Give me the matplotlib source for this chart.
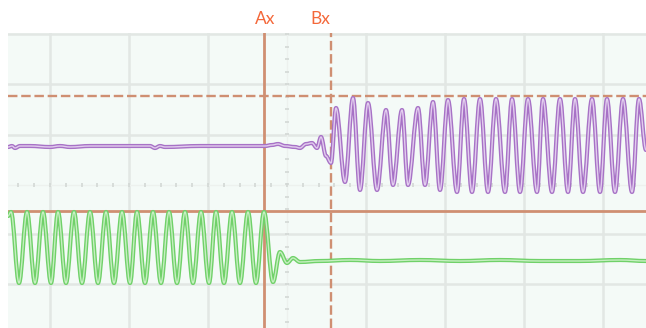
import matplotlib.pyplot as plt
import matplotlib.patheffects as pe
from matplotlib.path import Path
from matplotlib.patches import PathPatch
import numpy as np

# screen-like coordinates (pixels of the scope capture), y grows downwards
PURPLE_X = [8, 12, 15, 20, 30, 50, 60, 70, 90, 100, 150, 155, 160, 165, 200, 230, 265,
            272, 278, 285, 295, 300, 306, 312, 317, 321, 326, 331,
            336, 345, 353, 360, 368, 377, 386, 393, 402, 408, 418, 425, 433, 440,
            448, 457, 464, 472, 480, 488, 496, 505, 512, 520, 528, 537, 543, 552,
            560, 568, 575, 583, 592, 600, 607, 615, 623, 632, 639, 646]
PURPLE_Y = [147, 146, 148, 146, 146, 147, 146, 147, 146, 146, 146, 148, 146, 147, 146, 146, 146,
            145, 144, 146, 147, 148, 144, 143, 148, 137, 156, 163,
            108, 182, 98, 190, 103, 190, 110, 185, 110, 185, 108, 185, 102, 190,
            100, 192, 99, 192, 99, 192, 99, 192, 99, 192, 99, 192, 99, 192,
            99, 192, 99, 192, 99, 192, 99, 192, 99, 192, 99, 150]

GREEN_X = [8, 11, 19, 27, 35, 43, 51, 58, 66, 74, 82, 90, 98, 106, 114, 122, 130,
           137, 145, 153, 161, 169, 177, 185, 193, 201, 209, 216, 224, 232, 240,
           248, 256, 264, 273, 280, 287, 293, 300, 320, 350, 380, 420, 460, 500,
           540, 580, 620, 646]
GREEN_Y = [216, 212, 283, 212, 283, 212, 283, 212, 283, 212, 283, 212, 283, 212, 283, 212, 283,
           212, 283, 212, 283, 212, 283, 212, 283, 212, 283, 212, 283, 212, 283,
           212, 283, 212, 282, 252, 263, 258, 262, 261, 260, 261, 260, 261, 260,
           261, 261, 260, 261]

GRID_X = [50, 129, 208, 366, 445, 524, 603]
GRID_Y = [34, 84, 135, 234, 284]
CENTER_X = 287
CENTER_Y = 185

CURSOR_AX = 264
CURSOR_BX = 331
CURSOR_TOP = 96
CURSOR_BOTTOM = 211


def trace_path(xs, ys):
    # the scope draws smooth strokes: curve from one sample to the next,
    # flat tangents at every sample so peaks come out rounded
    verts = [(xs[0], ys[0])]
    codes = [Path.MOVETO]
    for x0, y0, x1, y1 in zip(xs[:-1], ys[:-1], xs[1:], ys[1:]):
        k = 0.36 * (x1 - x0)
        verts += [(x0 + k, y0), (x1 - k, y1), (x1, y1)]
        codes += [Path.CURVE4] * 3
    return Path(verts, codes)


def draw_trace(axis, xs, ys, edge, inner):
    patch = PathPatch(trace_path(xs, ys), facecolor="none", edgecolor=inner,
                      linewidth=1.0, zorder=3, capstyle="round", joinstyle="round",
                      path_effects=[pe.Stroke(linewidth=3.0, foreground=edge), pe.Normal()])
    axis.add_patch(patch)


fig = plt.figure(figsize=(6.46, 3.28), dpi=100)
fig.patch.set_facecolor("white")
ax = fig.add_axes([8 / 646, 0, 638 / 646, 295 / 328])
ax.set_xlim(8, 646)
ax.set_ylim(328, 33)
ax.set_facecolor("#f4faf7")
for side in ax.spines.values():
    side.set_visible(False)
ax.set_xticks([])
ax.set_yticks([])

grid_color = "#e2e7e4"
for x in GRID_X:
    ax.axvline(x, color=grid_color, linewidth=1.8, zorder=1)
for y in GRID_Y:
    ax.axhline(y, color=grid_color, linewidth=1.8, zorder=1)

# center axes with small division ticks
ax.axvline(CENTER_X, color="#edf1ee", linewidth=1.0, zorder=1)
ax.axhline(CENTER_Y, color="#edf1ee", linewidth=1.0, zorder=1)
tick_y = np.arange(34, 330, 12.5)
tick_x = np.arange(50 - 79, 650, 79 / 5)
ax.plot([CENTER_X] * len(tick_y), tick_y, linestyle="none", marker="_",
        markersize=3, color="#d3d8d5", markeredgewidth=1.2, zorder=1)
ax.plot(tick_x, [CENTER_Y] * len(tick_x), linestyle="none", marker="|",
        markersize=3, color="#d3d8d5", markeredgewidth=1.2, zorder=1)

cursor_color = "#cf8f72"
ax.axvline(CURSOR_AX, color=cursor_color, linewidth=2.0, zorder=2)
ax.axhline(CURSOR_BOTTOM, color=cursor_color, linewidth=2.0, zorder=2)
ax.axvline(CURSOR_BX, color=cursor_color, linewidth=1.7, dashes=(4, 1.6), zorder=2)
ax.axhline(CURSOR_TOP, color=cursor_color, linewidth=1.7, dashes=(4, 1.6), zorder=2)

draw_trace(ax, PURPLE_X, PURPLE_Y, "#a772c6", "#e2cdee")
draw_trace(ax, GREEN_X, GREEN_Y, "#70d169", "#c6efc1")

label_color = "#f4683a"
fig.text(265 / 646, 1 - 19 / 328, "Ax", color=label_color, fontsize=12.5,
         family="Lato", ha="center", va="center")
fig.text(320 / 646, 1 - 19 / 328, "Bx", color=label_color, fontsize=12.5,
         family="Lato", ha="center", va="center")

fig.savefig("out.png", dpi=100, facecolor=fig.get_facecolor())
